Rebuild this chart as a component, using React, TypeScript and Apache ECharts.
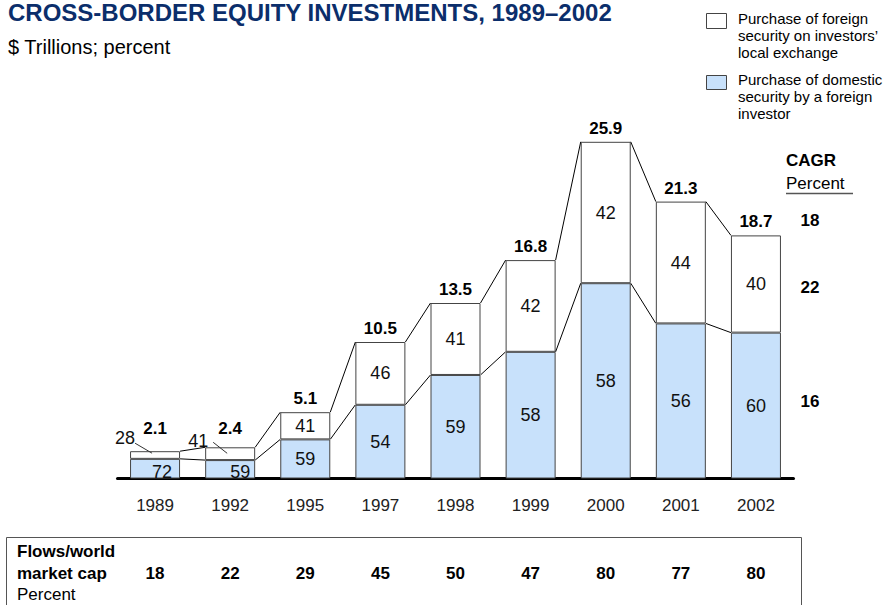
import React, { useEffect, useRef } from "react";
import * as echarts from "echarts";

const years = ["1989", "1992", "1995", "1997", "1998", "1999", "2000", "2001", "2002"];
const totals = [2.1, 2.4, 5.1, 10.5, 13.5, 16.8, 25.9, 21.3, 18.7];
const domesticPct = [72, 59, 59, 54, 59, 58, 58, 56, 60];
const foreignPct = [28, 41, 41, 46, 41, 42, 42, 44, 40];
const flowsPct = [18, 22, 29, 45, 50, 47, 80, 77, 80];
const cagr = [18, 22, 16]; // total, foreign, domestic

const FONT = "'Liberation Sans', Arial, Helvetica, sans-serif";
const BLUE = "#c8e1fb";
const BORDER = "#444";
const HALF = 25;

const domesticVals = totals.map((t, i) => +(t * domesticPct[i] / 100).toFixed(3));
const foreignVals = totals.map((t, i) => +(t - domesticVals[i]).toFixed(3));

function txt(text: string, x: number, y: number, size: number, bold = false, align = "left", fill = "#000") {
  return {
    type: "text",
    x,
    y,
    silent: true,
    style: {
      text,
      fontSize: size,
      fontWeight: bold ? "bold" : "normal",
      fontFamily: FONT,
      fill,
      align,
      verticalAlign: "middle",
    },
  };
}

export default function App() {
  const ref = useRef<HTMLDivElement>(null);
  useEffect(() => {
    const chart = echarts.init(ref.current!, null, { renderer: "svg" });

    const foreignData = foreignVals.map((v, i) => {
      if (i === 0) return { value: v, label: { position: [-5, -13], align: "center", verticalAlign: "middle" } };
      if (i === 1) return { value: v, label: { position: [-7, -6], align: "center", verticalAlign: "middle" } };
      return v;
    });
    const domesticData = domesticVals.map((v, i) => {
      if (i === 0) return { value: v, label: { offset: [7, 3] } };
      if (i === 1) return { value: v, label: { offset: [10, 3] } };
      return v;
    });
    const totalData = totals.map((v, i) => {
      if (i === 0) return { value: v, label: { distance: 14 } };
      if (i === 1) return { value: v, label: { distance: 10 } };
      return v;
    });

    const option: any = {
      animation: false,
      textStyle: { fontFamily: FONT },
      grid: { left: 117.5, right: 93.5, top: 88.5, bottom: 126.5, containLabel: false, outerBoundsMode: "none" },
      xAxis: [
        {
          type: "category",
          data: years,
          axisLine: { show: true, lineStyle: { color: "#000", width: 3 } },
          axisTick: { show: false },
          axisLabel: { fontSize: 17, color: "#222", margin: 18, fontFamily: FONT },
          splitLine: { show: false },
        },
        {
          type: "category",
          data: flowsPct.map(String),
          position: "bottom",
          offset: 68,
          axisLine: { show: false },
          axisTick: { show: false },
          axisLabel: { fontSize: 17, fontWeight: "bold", color: "#000", margin: 18, fontFamily: FONT },
          splitLine: { show: false },
        },
      ],
      yAxis: { type: "value", min: 0, max: 30, show: false, splitLine: { show: false } },
      series: [
        {
          name: "domestic",
          type: "bar",
          stack: "s",
          barWidth: 50,
          data: domesticData,
          itemStyle: { color: BLUE, borderColor: BORDER, borderWidth: 1 },
          label: {
            show: true,
            position: "inside",
            fontSize: 18,
            color: "#111",
            fontFamily: FONT,
            formatter: (p: any) => String(domesticPct[p.dataIndex]),
          },
          silent: true,
        },
        {
          name: "foreign",
          type: "bar",
          stack: "s",
          barWidth: 50,
          data: foreignData,
          itemStyle: { color: "#fff", borderColor: BORDER, borderWidth: 1 },
          label: {
            show: true,
            position: "inside",
            fontSize: 18,
            color: "#111",
            fontFamily: FONT,
            formatter: (p: any) => String(foreignPct[p.dataIndex]),
          },
          silent: true,
        },
        {
          name: "total",
          type: "bar",
          barWidth: 50,
          barGap: "-100%",
          data: totalData,
          itemStyle: { color: "rgba(0,0,0,0)", borderWidth: 0 },
          label: {
            show: true,
            position: "top",
            distance: 5,
            fontSize: 17,
            fontWeight: "bold",
            color: "#000",
            fontFamily: FONT,
            formatter: (p: any) => totals[p.dataIndex].toFixed(1),
          },
          silent: true,
          z: 3,
        },
        {
          name: "connectors",
          type: "custom",
          silent: true,
          z: 5,
          data: totals.map((t, i) => [i, t, domesticVals[i]]),
          encode: { x: 0, y: 1 },
          renderItem: (params: any, api: any) => {
            const i = api.value(0);
            const t = api.value(1);
            const d = api.value(2);
            const children: any[] = [];
            const ls = { stroke: "#000", lineWidth: 1, fill: "none" };
            if (i < totals.length - 1) {
              const a = api.coord([i, t]);
              const b = api.coord([i + 1, totals[i + 1]]);
              children.push({ type: "line", shape: { x1: a[0] + HALF, y1: a[1], x2: b[0] - HALF, y2: b[1] }, style: ls });
              const c = api.coord([i, d]);
              const e = api.coord([i + 1, domesticVals[i + 1]]);
              children.push({ type: "line", shape: { x1: c[0] + HALF, y1: c[1], x2: e[0] - HALF, y2: e[1] }, style: ls });
            }
            if (i === 0 || i === 1) {
              const top = api.coord([i, t]);
              const left = top[0] - HALF;
              const s = i === 0 ? [5, -8, 22, 2] : [8, -5, 22, 6];
              children.push({
                type: "line",
                shape: { x1: left + s[0], y1: top[1] + s[1], x2: left + s[2], y2: top[1] + s[3] },
                style: { stroke: "#333", lineWidth: 1, fill: "none" },
              });
            }
            return { type: "group", children };
          },
        },
      ],
      graphic: [
        txt("CROSS-BORDER EQUITY INVESTMENTS, 1989\u20132002", 8, 12.5, 24, true, "left", "#0b2e6b"),
        txt("$ Trillions; percent", 8, 47, 20, false, "left", "#000"),
        // legend
        { type: "rect", shape: { x: 706.5, y: 13.5, width: 20, height: 15 }, style: { fill: "#fff", stroke: "#444", lineWidth: 1 } },
        txt("Purchase of foreign", 738, 18, 15),
        txt("security on investors\u2019", 738, 35, 15),
        txt("local exchange", 738, 52, 15),
        { type: "rect", shape: { x: 706.5, y: 75.5, width: 20, height: 14 }, style: { fill: BLUE, stroke: "#444", lineWidth: 1 } },
        txt("Purchase of domestic", 738, 79, 15),
        txt("security by a foreign", 738, 96, 15),
        txt("investor", 738, 113, 15),
        // CAGR
        txt("CAGR", 786, 160, 17, true),
        txt("Percent", 786, 183, 17),
        { type: "line", shape: { x1: 786, y1: 193.5, x2: 853, y2: 193.5 }, style: { stroke: "#555", lineWidth: 1.5 } },
        txt(String(cagr[0]), 810, 220, 17, true, "center"),
        txt(String(cagr[1]), 810, 287, 17, true, "center"),
        txt(String(cagr[2]), 810, 401, 17, true, "center"),
        // table
        { type: "rect", shape: { x: 6.5, y: 537.5, width: 795, height: 100 }, style: { fill: "none", stroke: "#555", lineWidth: 1 } },
        txt("Flows/world", 17, 551, 17, true),
        txt("market cap", 17, 573, 17, true),
        txt("Percent", 17, 594, 17),
      ],
    };
    chart.setOption(option);
    return () => chart.dispose();
  }, []);
  return (
    <div
      ref={ref}
      style={{ position: "fixed", left: 0, top: 0, width: 887, height: 605, background: "#fff" }}
    />
  );
}
